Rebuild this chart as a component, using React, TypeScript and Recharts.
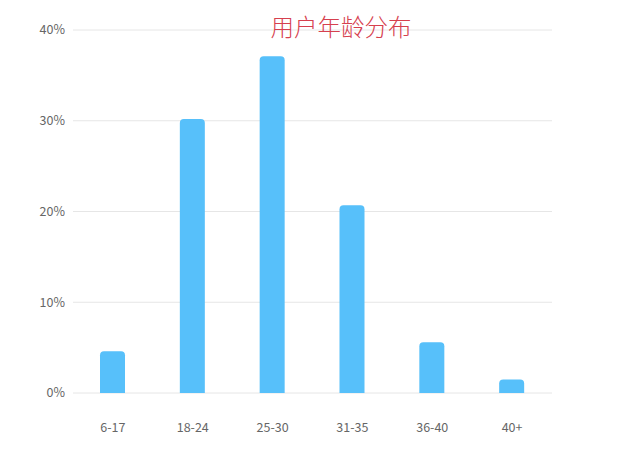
import React from "react";
import { BarChart, Bar, XAxis, YAxis, CartesianGrid } from "recharts";

const categories = ["6-17", "18-24", "25-30", "31-35", "36-40", "40+"];
const shares = [4.6, 30.2, 37.1, 20.7, 5.6, 1.5];
const yTicks = [0, 10, 20, 30, 40];
const title = "用户年龄分布";

const data = categories.map((c, i) => ({ name: c, value: shares[i] }));

const font = "'Noto Sans CJK SC', 'Noto Sans', sans-serif";

export default function App() {
  return (
    <div style={{ position: "absolute", left: 0, top: 0, width: 623, height: 451, background: "#fff" }}>
      <BarChart
        width={623}
        height={451}
        data={data}
        margin={{ top: 30, right: 71, bottom: 0, left: 0 }}
      >
        <CartesianGrid vertical={false} stroke="#e6e6e6" />
        <XAxis
          dataKey="name"
          axisLine={false}
          tickLine={false}
          height={58}
          tickMargin={24}
          tick={{ fill: "#666", fontSize: 12.5, fontFamily: font }}
        />
        <YAxis
          width={73}
          domain={[0, 40]}
          ticks={yTicks}
          axisLine={false}
          tickLine={false}
          tickFormatter={(v) => `${v}%`}
          tick={{ fill: "#666", fontSize: 12.5, fontFamily: font }}
        />
        <Bar
          dataKey="value"
          fill="#57c0fa"
          barSize={25}
          radius={[4, 4, 0, 0]}
          isAnimationActive={false}
        />
      </BarChart>
      <div
        style={{
          position: "absolute",
          left: 265,
          top: 11,
          width: 152,
          textAlign: "center",
          fontFamily: font,
          fontSize: 23.5,
          fontWeight: 300,
          color: "#d6404e",
          lineHeight: "30px",
          whiteSpace: "nowrap",
        }}
      >
        {title}
      </div>
    </div>
  );
}
